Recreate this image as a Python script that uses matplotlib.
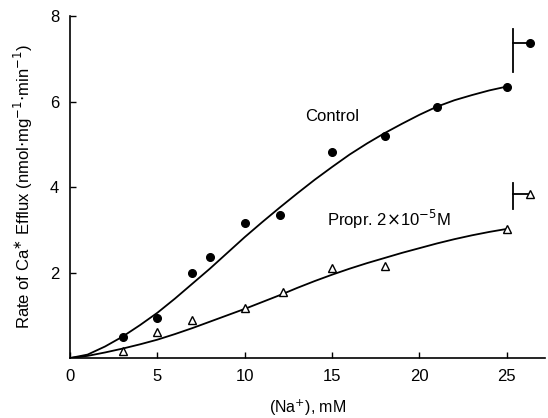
import matplotlib
matplotlib.use("Agg")
import matplotlib.pyplot as plt

plt.rcParams['font.family'] = ['Liberation Sans', 'DejaVu Sans']

# measured points
control_x = [3, 5, 7, 8, 10, 12, 15, 18, 21, 25]
control_y = [0.50, 0.93, 2.00, 2.37, 3.15, 3.35, 4.83, 5.19, 5.88, 6.35]
propr_x = [3, 5, 7, 10, 12.2, 15, 18, 25]
propr_y = [0.17, 0.62, 0.90, 1.16, 1.55, 2.11, 2.15, 3.02]

# fitted curves
curve_x = list(range(0, 26))
control_curve = [0, 0.08, 0.27, 0.50, 0.77, 1.06, 1.39, 1.74, 2.09, 2.46, 2.83,
                 3.18, 3.52, 3.85, 4.17, 4.47, 4.76, 5.02, 5.26, 5.48, 5.69,
                 5.88, 6.03, 6.15, 6.26, 6.35]
propr_curve = [0, 0.05, 0.13, 0.22, 0.32, 0.43, 0.56, 0.70, 0.85, 1.00, 1.15,
               1.31, 1.47, 1.64, 1.80, 1.95, 2.09, 2.22, 2.34, 2.46, 2.57,
               2.68, 2.78, 2.87, 2.95, 3.02]

# extra points on the right with their bars
extra_x = 26.35
bar_x = 25.35
control_extra = 7.37
control_bar = (6.70, 7.69)
propr_extra = 3.84
propr_bar = (3.48, 4.09)

x_ticks = [0, 5, 10, 15, 20, 25]
y_ticks = [2, 4, 6, 8]

fig = plt.figure(figsize=(5.48, 4.18), dpi=100)
ax = fig.add_axes([0.128, 0.1435, 0.867, 0.8182])

ax.plot(curve_x, control_curve, color='black', lw=1.3)
ax.plot(curve_x, propr_curve, color='black', lw=1.3)
ax.plot(control_x, control_y, 'o', color='black', ms=5.5)
ax.plot(propr_x, propr_y, '^', mfc='white', mec='black', mew=1.0, ms=6)

# right-hand bars
ax.plot([bar_x, bar_x], control_bar, color='black', lw=1.3)
ax.plot([bar_x, extra_x], [control_extra, control_extra], color='black', lw=1.3)
ax.plot(extra_x, control_extra, 'o', color='black', ms=5.5, clip_on=False)
ax.plot([bar_x, bar_x], propr_bar, color='black', lw=1.3)
ax.plot([bar_x, extra_x], [propr_extra, propr_extra], color='black', lw=1.3)
ax.plot(extra_x, propr_extra, '^', mfc='white', mec='black', mew=1.0, ms=6, clip_on=False)

ax.text(13.45, 5.64, "Control", fontsize=12, va='center')
ax.text(14.7, 3.23, "Propr. 2$\\times$10$^{-5}$M", fontsize=12, va='center')

ax.set_xlim(0, 27.2)
ax.set_ylim(0, 8)
ax.set_xticks(x_ticks)
ax.set_yticks(y_ticks)
ax.tick_params(direction='in', length=4, width=1, labelsize=12, pad=8)
for s in ['top', 'right']:
    ax.spines[s].set_visible(False)
for s in ['left', 'bottom']:
    ax.spines[s].set_linewidth(1.2)

ax.set_xlabel("(Na$^{+}$), mM", fontsize=11.5, labelpad=10)
ax.set_ylabel("Rate of Ca$^{\\ast}$ Efflux (nmol$\\cdot$mg$^{-1}$$\\cdot$min$^{-1}$)",
              fontsize=12)
ax.yaxis.set_label_coords(-0.075, 0.5)

fig.savefig("out.png", dpi=100)
